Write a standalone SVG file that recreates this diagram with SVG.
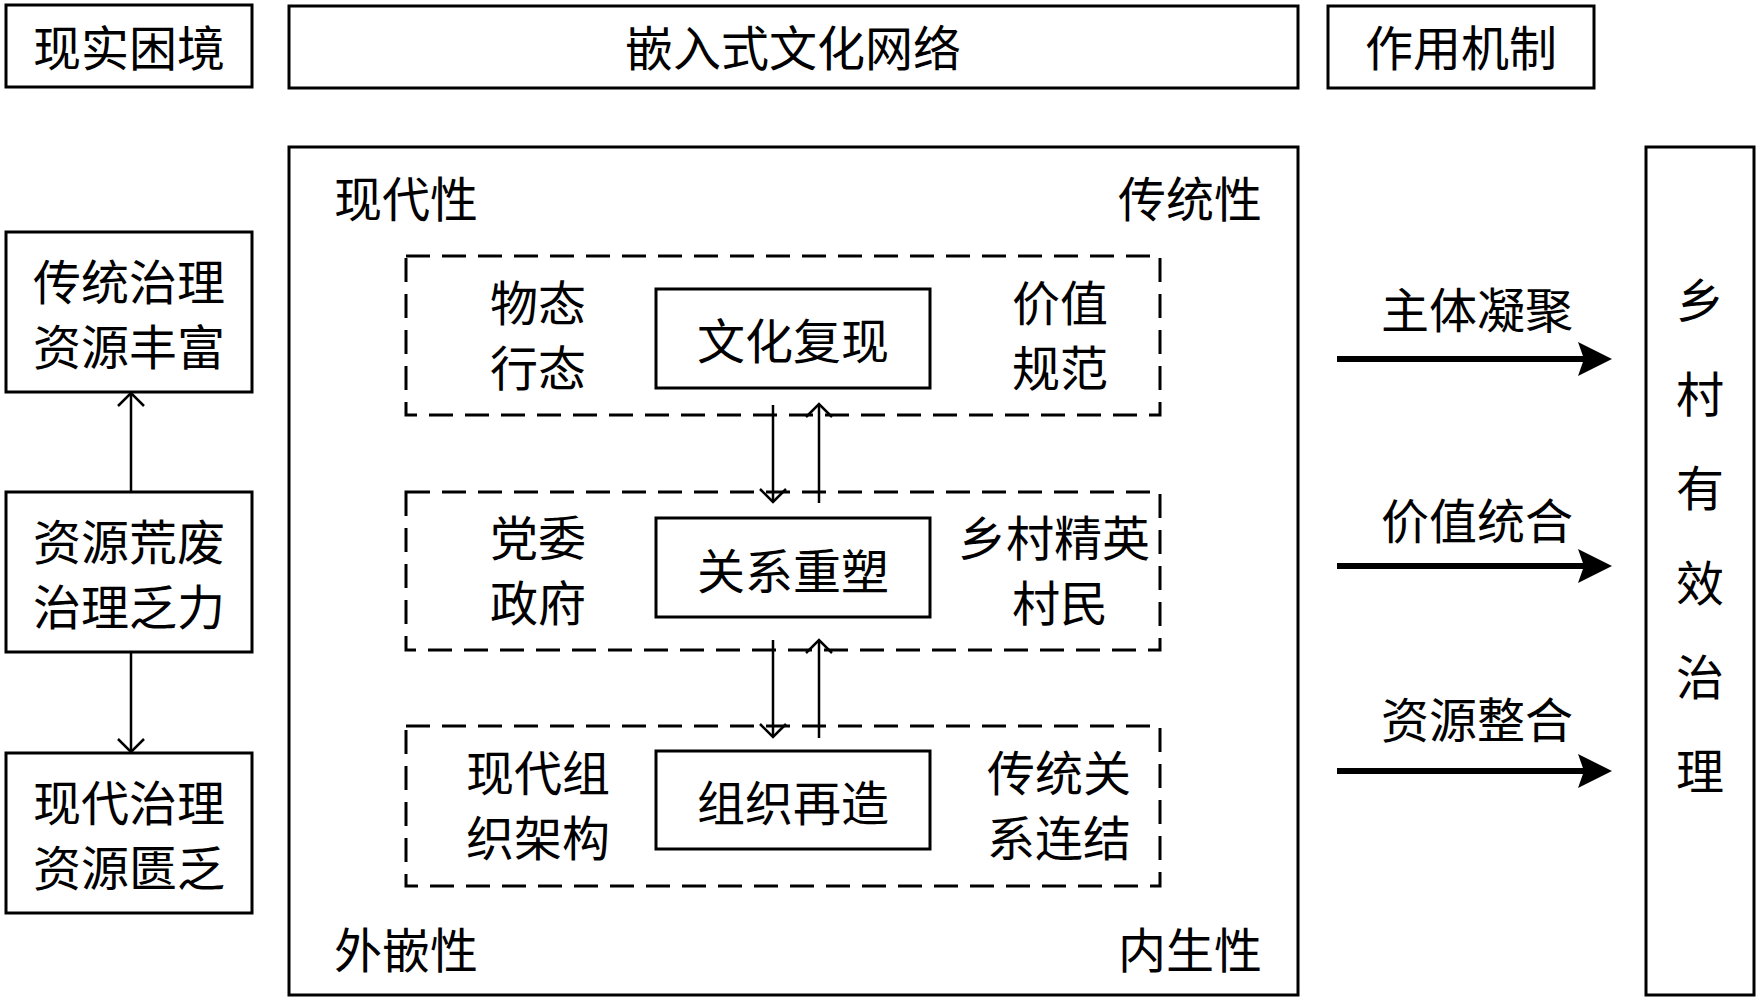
<svg xmlns="http://www.w3.org/2000/svg" width="1758" height="1002" viewBox="0 0 1758 1002">
<style>
.box{fill:none;stroke:#000;stroke-width:3}
.dash{fill:none;stroke:#000;stroke-width:3;stroke-dasharray:24 12}
.t{font-family:"Noto Sans CJK SC","Noto Sans",sans-serif;font-size:48px;fill:#000;dominant-baseline:central}
.c{text-anchor:middle}
.e{text-anchor:end}
.thin{stroke:#000;stroke-width:2.5;fill:none}
.thick{stroke:#000;stroke-width:6;fill:none}
</style>
<defs>
<marker id="open" viewBox="0 0 16 28" refX="14" refY="14" markerWidth="16" markerHeight="28" markerUnits="userSpaceOnUse" orient="auto">
<path d="M1,1 L14,14 L1,27" fill="none" stroke="#000" stroke-width="2.5"/>
</marker>
<marker id="solid" viewBox="0 0 34 34" refX="12" refY="17" markerWidth="34" markerHeight="34" markerUnits="userSpaceOnUse" orient="auto">
<path d="M0,0 L34,17 L0,34 L6,17 Z" fill="#000"/>
</marker>
</defs>
<rect width="1758" height="1002" fill="#fff"/>

<g id="header-situation"><rect class="box" x="6" y="5" width="246" height="82"/><text class="t c" x="129" y="45">现实困境</text></g>
<g id="header-network"><rect class="box" x="289" y="6" width="1009" height="82"/><text class="t c" x="793" y="45">嵌入式文化网络</text></g>
<g id="header-mechanism"><rect class="box" x="1328" y="6" width="266" height="82"/><text class="t c" x="1461" y="45">作用机制</text></g>

<g id="left-traditional"><rect class="box" x="6" y="232" width="246" height="160"/><text class="t c" x="129" y="279">传统治理</text><text class="t c" x="129" y="344">资源丰富</text></g>
<g id="left-waste"><rect class="box" x="6" y="492" width="246" height="160"/><text class="t c" x="129" y="539">资源荒废</text><text class="t c" x="129" y="604">治理乏力</text></g>
<g id="left-modern"><rect class="box" x="6" y="753" width="246" height="160"/><text class="t c" x="129" y="800">现代治理</text><text class="t c" x="129" y="865">资源匮乏</text></g>

<g id="network">
<rect class="box" x="289" y="147" width="1009" height="848"/>
<text class="t" x="334" y="196">现代性</text>
<text class="t e" x="1262" y="196">传统性</text>
<text class="t" x="334" y="947">外嵌性</text>
<text class="t e" x="1262" y="947">内生性</text>
</g>

<g id="layer-culture">
<rect class="dash" x="406" y="256" width="754" height="159"/>
<text class="t c" x="538" y="300">物态</text><text class="t c" x="538" y="365">行态</text>
<rect class="box" x="656" y="289" width="274" height="99"/><text class="t c" x="793" y="338">文化复现</text>
<text class="t c" x="1060" y="300">价值</text><text class="t c" x="1060" y="365">规范</text>
</g>
<g id="layer-relation">
<rect class="dash" x="406" y="492" width="754" height="158"/>
<text class="t c" x="538" y="535">党委</text><text class="t c" x="538" y="600">政府</text>
<rect class="box" x="656" y="518" width="274" height="99"/><text class="t c" x="793" y="568">关系重塑</text>
<text class="t c" x="1054" y="535">乡村精英</text><text class="t c" x="1060" y="600">村民</text>
</g>
<g id="layer-organization">
<rect class="dash" x="406" y="726" width="754" height="160"/>
<text class="t c" x="538" y="770">现代组</text><text class="t c" x="538" y="835">织架构</text>
<rect class="box" x="656" y="751" width="274" height="98"/><text class="t c" x="793" y="800">组织再造</text>
<text class="t c" x="1059" y="770">传统关</text><text class="t c" x="1059" y="835">系连结</text>
</g>

<g id="right-mechanisms">
<text class="t c" x="1477" y="307">主体凝聚</text>
<text class="t c" x="1477" y="518">价值统合</text>
<text class="t c" x="1477" y="717">资源整合</text>
</g>

<g id="outcome">
<rect class="box" x="1646" y="147" width="108" height="848"/>
<text class="t c" x="1700" y="297">乡</text>
<text class="t c" x="1700" y="391">村</text>
<text class="t c" x="1700" y="485">有</text>
<text class="t c" x="1700" y="580">效</text>
<text class="t c" x="1700" y="674">治</text>
<text class="t c" x="1700" y="768">理</text>
</g>

<g id="connectors">
<line class="thin" x1="131" y1="492" x2="131" y2="393" marker-end="url(#open)"/>
<line class="thin" x1="131" y1="652" x2="131" y2="752" marker-end="url(#open)"/>
<line class="thin" x1="773" y1="405" x2="773" y2="502" marker-end="url(#open)"/>
<line class="thin" x1="819" y1="503" x2="819" y2="404" marker-end="url(#open)"/>
<line class="thin" x1="773" y1="640" x2="773" y2="737" marker-end="url(#open)"/>
<line class="thin" x1="819" y1="738" x2="819" y2="640" marker-end="url(#open)"/>
<line class="thick" x1="1337" y1="359" x2="1590" y2="359" marker-end="url(#solid)"/>
<line class="thick" x1="1337" y1="566" x2="1590" y2="566" marker-end="url(#solid)"/>
<line class="thick" x1="1337" y1="771" x2="1590" y2="771" marker-end="url(#solid)"/>
</g>
</svg>
